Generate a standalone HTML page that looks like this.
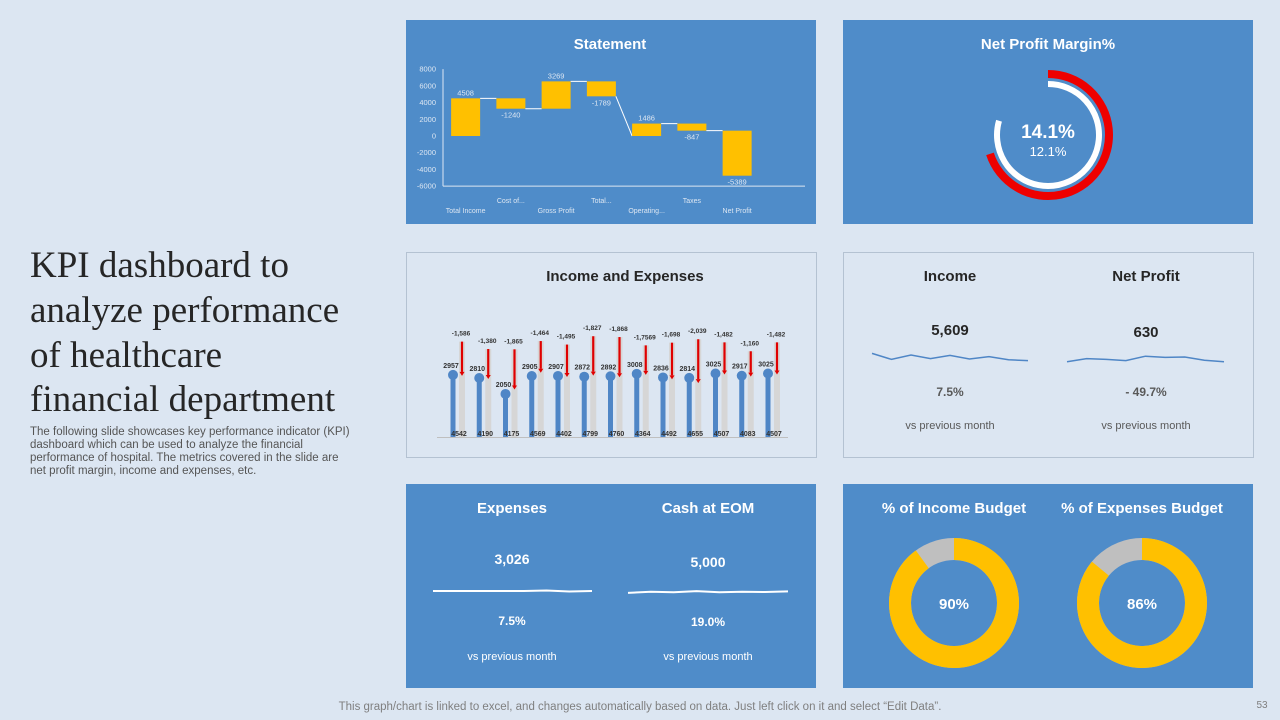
<!DOCTYPE html>
<html><head><meta charset="utf-8">
<style>
html,body{margin:0;padding:0;background:#dce6f2;}
body{width:1280px;height:720px;overflow:hidden;position:relative;font-family:"Liberation Sans",sans-serif;}
svg{position:absolute;left:0;top:0;}
</style></head>
<body>
<svg id="s" width="1280" height="720" viewBox="0 0 1280 720">
  <rect x="0" y="0" width="1280" height="720" fill="#dce6f2"/>
  <g font-family="Liberation Serif, serif" font-size="37" fill="#262626">
    <text x="30" y="277">KPI dashboard to</text>
    <text x="30" y="322">analyze performance</text>
    <text x="30" y="367">of healthcare</text>
    <text x="30" y="411">financial department</text>
  </g>
  <g font-size="11.5" fill="#555">
    <text x="30" y="435">The following slide showcases key performance indicator (KPI)</text>
    <text x="30" y="448">dashboard which can be used to analyze the financial</text>
    <text x="30" y="461">performance of hospital. The metrics covered in the slide are</text>
    <text x="30" y="474">net profit margin, income and expenses, etc.</text>
  </g>
  <text x="640" y="710" text-anchor="middle" font-size="11.5" fill="#7f7f7f">This graph/chart is linked to excel, and changes automatically based on data. Just left click on it and select “Edit Data”.</text>
  <text x="1262" y="708" text-anchor="middle" font-size="10" fill="#7f7f7f">53</text>

  <rect x="406" y="20" width="410" height="204" fill="#4f8cc9"/>
  <rect x="843" y="20" width="410" height="204" fill="#4f8cc9"/>
  <rect x="406.5" y="252.5" width="410" height="205" fill="#dce6f2" stroke="#b4c2d2"/>
  <rect x="843.5" y="252.5" width="410" height="205" fill="#dce6f2" stroke="#b4c2d2"/>
  <rect x="406" y="484" width="410" height="204" fill="#4f8cc9"/>
  <rect x="843" y="484" width="410" height="204" fill="#4f8cc9"/>

  <g font-weight="bold" font-size="15" text-anchor="middle">
    <text x="610" y="49" fill="#fff">Statement</text>
    <text x="1048" y="49" fill="#fff">Net Profit Margin%</text>
    <text x="625" y="281" fill="#262626">Income and Expenses</text>
    <text x="950" y="281" fill="#262626">Income</text>
    <text x="1146" y="281" fill="#262626">Net Profit</text>
    <text x="512" y="513" fill="#fff">Expenses</text>
    <text x="708" y="513" fill="#fff">Cash at EOM</text>
    <text x="954" y="513" fill="#fff">% of Income Budget</text>
    <text x="1142" y="513" fill="#fff">% of Expenses Budget</text>
  </g>

  <g text-anchor="middle">
    <text x="950" y="335" font-size="15" font-weight="bold" fill="#262626">5,609</text>
    <text x="1146" y="337" font-size="15" font-weight="bold" fill="#262626">630</text>
    <text x="950" y="396" font-size="12" font-weight="bold" fill="#595959">7.5%</text>
    <text x="1146" y="396" font-size="12" font-weight="bold" fill="#595959">- 49.7%</text>
    <text x="950" y="429" font-size="11" fill="#595959">vs previous month</text>
    <text x="1146" y="429" font-size="11" fill="#595959">vs previous month</text>
    <text x="512" y="564" font-size="14" font-weight="bold" fill="#fff">3,026</text>
    <text x="708" y="567" font-size="14" font-weight="bold" fill="#fff">5,000</text>
    <text x="512" y="625" font-size="12" font-weight="bold" fill="#fff">7.5%</text>
    <text x="708" y="626" font-size="12" font-weight="bold" fill="#fff">19.0%</text>
    <text x="512" y="660" font-size="11" fill="#fff">vs previous month</text>
    <text x="708" y="660" font-size="11" fill="#fff">vs previous month</text>
  </g>
  <g id="dyn"></g>
</svg>
<script>
const wfCats = ["Total Income","Cost of...","Gross Profit","Total...","Operating...","Taxes","Net Profit"];
const wfVals = [4508,-1240,3269,-1789,1486,-847,-5389];
const wfReset = [1,0,0,0,1,0,0];
const wfTicks = [8000,6000,4000,2000,0,-2000,-4000,-6000];
const ieIncome = [4542,4190,4175,4569,4402,4799,4760,4364,4492,4655,4507,4083,4507];
const ieNet = [2957,2810,2050,2905,2907,2872,2892,3008,2836,2814,3025,2917,3025];
const ieExp = [-1586,-1380,-1865,-1464,-1495,-1827,-1868,-1356,-1698,-2039,-1482,-1160,-1482];
const ieExpLabels = ["-1,586","-1,380","-1,865","-1,464","-1,495","-1,827","-1,868","-1,7569","-1,698","-2,039","-1,482","-1,160","-1,482"];
const npmActual = 14.1;
const npmPrev = 12.1;
const incomeSpark = [5700,5550,5660,5570,5650,5560,5620,5540,5520];
const profitSpark = [600,640,630,615,670,655,660,620,600];
const expSpark = [3020,3020,3020,3020,3020,3025,3015,3020];
const cashSpark = [4980,5000,4990,5010,4990,5000,4995,5005];
const budgetVals = [90,86];

const NS="http://www.w3.org/2000/svg";
const dyn=document.getElementById('dyn');
function mk(tag,attrs,parent){const e=document.createElementNS(NS,tag);for(const k in attrs)e.setAttribute(k,attrs[k]);(parent||dyn).appendChild(e);return e;}

const wfY=v=>136-v*(117/14000);
const wfX0=443, wfW=45.25;
const wfX=i=>wfX0+wfW*(i+0.5);
wfTicks.forEach(t=>{
  const e=mk('text',{x:436,y:wfY(t)+2.5,'text-anchor':'end','font-size':7.5,fill:'#dce6f2'});
  e.textContent=t;
  
  
});
let ax=mk('line',{x1:443,y1:wfY(-6000),x2:805,y2:wfY(-6000),stroke:'#dce6f2','stroke-width':1});


ax=mk('line',{x1:443,y1:wfY(8000),x2:443,y2:wfY(-6000),stroke:'#dce6f2','stroke-width':1});


let run=0, prevEnd=null;
wfVals.forEach((v,i)=>{
  const start=wfReset[i]?0:run; const end=start+v; run=end;
  const x=wfX(i)-14.5;
  if(prevEnd!==null){
    const c=mk('line',{x1:wfX(i-1)+14.5,y1:wfY(prevEnd),x2:x,y2:wfY(start),stroke:'#fff','stroke-width':1});
    
    
  }
  prevEnd=end;
  const r=mk('rect',{x:x,y:wfY(Math.max(start,end)),width:29,height:Math.abs(wfY(start)-wfY(end)),fill:'#ffc000'});
  
  
  const ly=v>=0?wfY(Math.max(start,end))-3:wfY(Math.min(start,end))+9;
  const l=mk('text',{x:wfX(i),y:ly,'text-anchor':'middle','font-size':7.5,fill:'#dce6f2'});
  l.textContent=v;
  
  
  const cl=mk('text',{x:wfX(i),y:i%2?203:213,'text-anchor':'middle','font-size':7,fill:'#dce6f2'});
  cl.textContent=wfCats[i];
  
  
});

const ieY=v=>437-v*0.021;
const ieX=i=>453+i*26.25;
ax=mk('line',{x1:437,y1:437.5,x2:788,y2:437.5,stroke:'#bfbfbf','stroke-width':1});


ieIncome.forEach((inc,i)=>{
  const x=ieX(i);
  const g=mk('rect',{x:x+6,y:ieY(inc),width:6,height:437-ieY(inc),fill:'#d6d6d6'});
  
  
  const s=mk('rect',{x:x-2.5,y:ieY(ieNet[i]),width:5,height:437-ieY(ieNet[i]),fill:'#4f86c6'});
  
  
  const d=mk('circle',{cx:x,cy:ieY(ieNet[i]),r:5,fill:'#4f86c6'});
  
  
  const ax2=x+9, y1=ieY(inc), y2=ieY(inc+ieExp[i]);
  const a=mk('line',{x1:ax2,y1:y1,x2:ax2,y2:y2-3,stroke:'#e00000','stroke-width':2.2});
  
  
  const h=mk('path',{d:`M${ax2-2.5},${y2-3} L${ax2+2.5},${y2-3} L${ax2},${y2+1} Z`,fill:'#e00000'});
  
  
  const el=mk('text',{x:ax2-1,y:y1-6,'text-anchor':'middle','font-size':6.5,'font-weight':'bold',fill:'#333'});
  el.textContent=ieExpLabels[i];
  
  
  const nl=mk('text',{x:x-2,y:ieY(ieNet[i])-7,'text-anchor':'middle','font-size':7,'font-weight':'bold',fill:'#333'});
  nl.textContent=ieNet[i];
  
  
  const il=mk('text',{x:x+6,y:436,'text-anchor':'middle','font-size':7,'font-weight':'bold',fill:'#333'});
  il.textContent=inc;
  
  
});

function arc(cx,cy,r,frac){
  const a=frac*2*Math.PI; const x=cx+r*Math.sin(a), y=cy-r*Math.cos(a);
  return `M${cx},${cy-r} A${r},${r} 0 ${frac>0.5?1:0} 1 ${x},${y}`;
}
const gc={x:1048,y:135};
let ga=mk('path',{d:arc(gc.x,gc.y,61,0.70),fill:'none',stroke:'#ee0000','stroke-width':8});


ga=mk('path',{d:arc(gc.x,gc.y,51,0.795),fill:'none',stroke:'#fff','stroke-width':6});


let gt=mk('text',{x:gc.x,y:138,'text-anchor':'middle','font-size':19,'font-weight':'bold',fill:'#fff'});
gt.textContent=npmActual.toFixed(1)+'%';


gt=mk('text',{x:gc.x,y:156,'text-anchor':'middle','font-size':13,fill:'#fff'});
gt.textContent=npmPrev.toFixed(1)+'%';



function spark(data,x0,x1,yc,range,color,w,name){
  const mn=Math.min(...data), mx=Math.max(...data), mid=(mn+mx)/2;
  const pts=data.map((v,i)=>`${x0+(x1-x0)*i/(data.length-1)},${yc-(v-mid)*range}`).join(' ');
  const p=mk('polyline',{points:pts,fill:'none',stroke:color,'stroke-width':w});
  
  
}
spark(incomeSpark,872,1028,357,0.04,'#4f86c6',1.5,'income-sparkline');
spark(profitSpark,1067,1224,359,0.08,'#4f86c6',1.5,'net-profit-sparkline');
spark(expSpark,433,592,591,0.1,'#fff',2,'expenses-sparkline');
spark(cashSpark,628,788,592,0.06,'#fff',2,'cash-sparkline');

const bc=[954,1142];
budgetVals.forEach((v,i)=>{
  const r=54;
  const g=mk('circle',{cx:bc[i],cy:603,r:r,fill:'none',stroke:'#bfbfbf','stroke-width':22});
  
  
  const y=mk('path',{d:arc(bc[i],603,r,v/100),fill:'none',stroke:'#ffc000','stroke-width':22});
  
  
  const t=mk('text',{x:bc[i],y:609,'text-anchor':'middle','font-size':15,'font-weight':'bold',fill:'#fff'});
  t.textContent=v+'%';
  
  
});
</script>
</body></html>
